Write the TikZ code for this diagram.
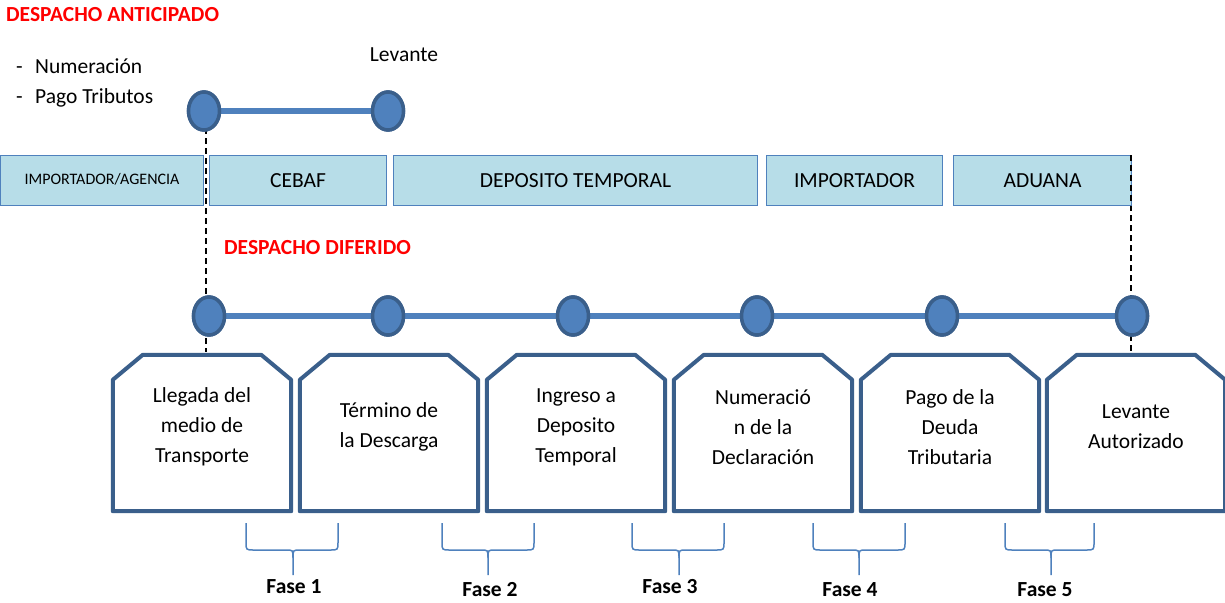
\documentclass[tikz,border=0pt]{standalone}
\usepackage{fontspec}
\setmainfont{Carlito}
\usetikzlibrary{shapes.geometric,calc}
\definecolor{cfill}{HTML}{4F81BD}
\definecolor{cdark}{HTML}{3A5F8B}
\definecolor{bandfill}{HTML}{B7DDE8}
\definecolor{cred}{HTML}{FF0000}
\begin{document}
\begin{tikzpicture}[x=1pt,y=-1pt,
  bandbox/.style={draw=cfill, line width=1pt, fill=bandfill, minimum height=50pt, inner sep=0pt, anchor=north west, font=\fontsize{21.5}{25}\selectfont},
  dot/.style={ellipse, draw=cdark, fill=cfill, line width=3.5pt, minimum width=31pt, minimum height=38pt, inner sep=0pt},
  tline/.style={draw=cfill, line width=6pt},
  guide/.style={draw=black, line width=1.5pt, dash pattern=on 6pt off 4pt},
  stepframe/.style={draw=none, minimum width=178pt, minimum height=156pt, inner sep=0pt},
  stepoutline/.style={draw=cdark, fill=white, line width=4pt, line join=round},
  steptext/.style={align=center, font=\fontsize{21.5}{30}\selectfont, inner sep=0pt},
  bracepath/.style={draw=cfill, line width=1.5pt},
  faselabel/.style={font=\bfseries\fontsize{21.5}{25}\selectfont, inner sep=0pt},
  redtitle/.style={font=\bfseries\fontsize{21.5}{25}\selectfont, text=cred, inner sep=0pt, anchor=west},
  plain/.style={font=\fontsize{21.5}{25}\selectfont, inner sep=0pt}
]
\useasboundingbox (0,0) rectangle (1225,602);

% titles
\node[redtitle] (ant) at (6,15) {DESPACHO ANTICIPADO};
\node[redtitle] (dif) at (224,248) {DESPACHO DIFERIDO};

% top list
\node[plain, anchor=base west] (d1) at (16,74) {-};
\node[plain, anchor=base west] (num) at (35,74) {Numeración};
\node[plain, anchor=base west] (d2) at (16,103) {-};
\node[plain, anchor=base west] (pago) at (35,103) {Pago Tributos};
\node[plain, anchor=base] (lev) at (404,62) {Levante};

% dashed guides (behind)
\coordinate (ga) at (206,128);
\coordinate (gb) at (206,352);
\coordinate (gc) at (1131,155);
\coordinate (gd) at (1131,355);
\draw[guide] (ga) -- (gb);
\draw[guide] (gc) -- (gd);

% bands
\node[bandbox, minimum width=203pt, font=\fontsize{16}{20}\selectfont] (b0) at (0,155) {\raisebox{3pt}{IMPORTADOR/AGENCIA}};
\node[bandbox, minimum width=177pt] (b1) at (209,155) {CEBAF};
\node[bandbox, minimum width=364pt] (b2) at (393,155) {DEPOSITO TEMPORAL};
\node[bandbox, minimum width=176pt] (b3) at (766,155) {IMPORTADOR};
\node[bandbox, minimum width=178pt] (b4) at (953,155) {ADUANA};
\draw[guide] (gc) -- ($(gc)+(0,50)$);
\draw[guide] (ga) -- (206,205);

% top timeline
\node[dot] (t1) at (204,111) {};
\node[dot] (t2) at (388,111) {};
\draw[tline] (t1) -- (t2);
\node[dot] (t1b) at (204,111) {};
\node[dot] (t2b) at (388,111) {};

% bottom timeline
\foreach \i/\x in {1/209,2/388,3/573,4/757,5/942,6/1132}{
  \node[dot] (p\i) at (\x,316) {};
}
\foreach \a/\b in {1/2,2/3,3/4,4/5,5/6}{
  \draw[tline] (p\a) -- (p\b);
}
\foreach \i/\x in {1/209,2/388,3/573,4/757,5/942,6/1132}{
  \node[dot] (q\i) at (\x,316) {};
}

% step boxes
\foreach \i/\x/\txt in {
  1/202/{Llegada del\\medio de\\Transporte},
  2/389/{Término de\\la Descarga},
  3/576/{Ingreso a\\Deposito\\Temporal},
  4/763/{Numeració\\n de la\\Declaración},
  5/950/{Pago de la\\Deuda\\Tributaria},
  6/1136/{Levante\\Autorizado}}{
  \node[stepframe] (s\i) at (\x,433) {};
  \draw[stepoutline] (s\i.south west) -- ($(s\i.north west)+(0,25)$) -- ($(s\i.north west)+(30,0)$)
     -- ($(s\i.north east)+(-30,0)$) -- ($(s\i.north east)+(0,25)$) -- (s\i.south east) -- cycle;
  \node[steptext] (st\i) at (\x,427) {\txt};
}

% braces
\foreach \i/\xa/\xb/\xc in {1/246/338/293,2/442/534/488,3/632/724/679,4/813/905/859,5/1005/1094/1051}{
  \draw[bracepath] (\xa,523) -- (\xa,542) .. controls (\xa,550) .. (\xa+8,550) -- (\xc-7,550) .. controls (\xc,550) .. (\xc,558) -- (\xc,575);
  \draw[bracepath] (\xb,523) -- (\xb,542) .. controls (\xb,550) .. (\xb-8,550) -- (\xc+7,550) .. controls (\xc,550) .. (\xc,558);
}
\node[faselabel] (f1) at (294,587) {Fase 1};
\node[faselabel] (f2) at (490,589.5) {Fase 2};
\node[faselabel] (f3) at (670,587) {Fase 3};
\node[faselabel] (f4) at (850,590) {Fase 4};
\node[faselabel] (f5) at (1045,590) {Fase 5};
\end{tikzpicture}
\end{document}
